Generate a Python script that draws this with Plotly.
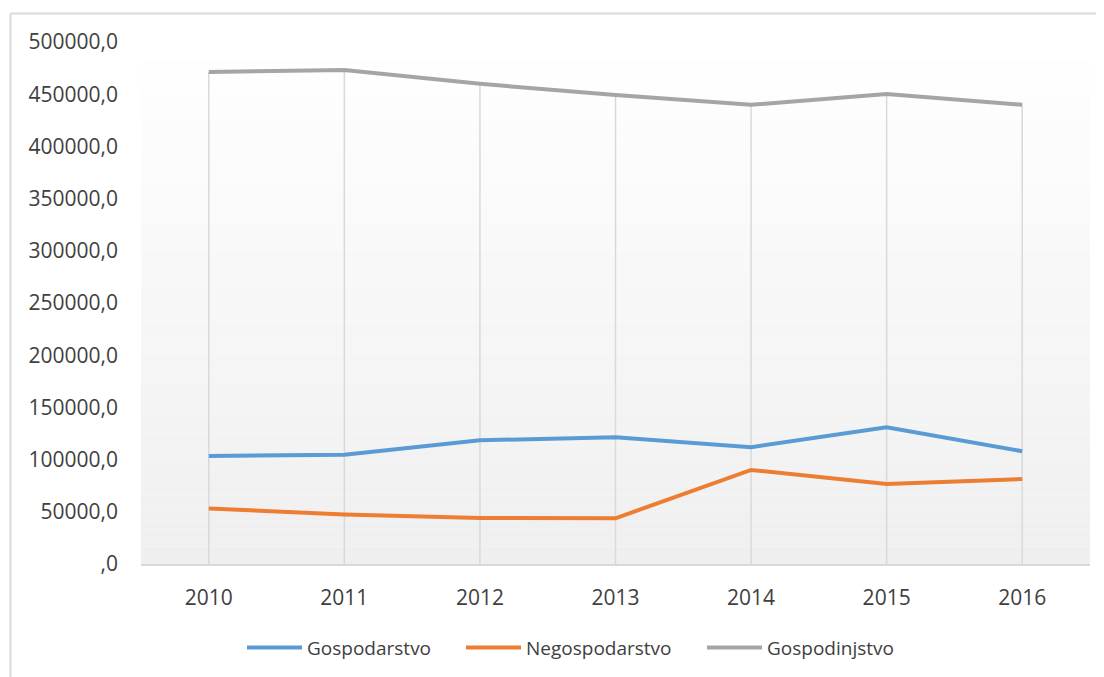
import plotly.graph_objects as go

years = ["2010", "2011", "2012", "2013", "2014", "2015", "2016"]
gospodarstvo = [103500, 104600, 118500, 121400, 111900, 131000, 108000]
negospodarstvo = [53200, 47400, 44000, 43800, 90100, 76700, 81300]
gospodinjstvo = [471300, 473200, 459900, 449300, 439800, 450300, 439800]

y_ticks = [0, 50000, 100000, 150000, 200000, 250000, 300000, 350000, 400000, 450000, 500000]
y_ticktext = [("%d" % v if v else "") + ",0" for v in y_ticks]

series = [
    ("Gospodarstvo", gospodarstvo, "#5b9bd5"),
    ("Negospodarstvo", negospodarstvo, "#ed7d31"),
    ("Gospodinjstvo", gospodinjstvo, "#a5a5a5"),
]

# the page body has an 8px margin, so the figure starts at (8, 8)
OFF = 8
W, H = 1104 - OFF, 677 - OFF
ml, mt = 141 - OFF, 42 - OFF
pw, ph = 949, 523
mr, mb = W - ml - pw, H - mt - ph

fig = go.Figure()

# drop lines (Excel style) from highest value down to axis
xs, ys = [], []
for i, yr in enumerate(years):
    top = max(gospodarstvo[i], negospodarstvo[i], gospodinjstvo[i])
    xs += [yr, yr, None]
    ys += [0, top, None]
fig.add_trace(go.Scatter(x=xs, y=ys, mode="lines", line=dict(color="#d9d9d9", width=1.5),
                         showlegend=False, hoverinfo="skip"))

legend_ids = ["legend", "legend2", "legend3"]
legend_px = [247, 466, 707]  # screen x where each legend sample starts
for (name, vals, col), lid in zip(series, legend_ids):
    fig.add_trace(go.Scatter(x=years, y=vals, name=name, mode="lines", legend=lid,
                             line=dict(color=col, width=4)))

shapes = []
# vertical gradient background of plot area
n = 60
for k in range(n):
    t = k / n
    g = int(round(255 - (255 - 239) * (1 - (k + 0.5) / n)))
    shapes.append(dict(type="rect", xref="x domain", yref="y domain",
                       x0=0, x1=1, y0=t, y1=t + 1.0 / n,
                       fillcolor=f"rgb({g},{g},{g})", line=dict(width=0), layer="below"))

# outer chart border (left and top visible)
bx = (10.5 - OFF - ml) / pw
by = 1 + (mt - (13.5 - OFF)) / ph
shapes.append(dict(type="line", xref="paper", yref="paper", x0=bx, x1=bx, y0=-0.5, y1=by,
                   line=dict(color="#d9d9d9", width=2)))
shapes.append(dict(type="line", xref="paper", yref="paper", x0=bx, x1=1.1, y0=by, y1=by,
                   line=dict(color="#d9d9d9", width=2)))

font_fam = "Open Sans, sans-serif"
legend_common = dict(orientation="h", xanchor="left", y=-0.158, yanchor="middle",
                     font=dict(size=19, color="#404040"), itemwidth=55,
                     bgcolor="rgba(0,0,0,0)")
layout_legends = {}
for lid, px in zip(legend_ids, legend_px):
    layout_legends[lid] = dict(legend_common, x=(px - 5 - OFF - ml) / pw)

fig.update_layout(
    width=W, height=H,
    margin=dict(l=ml, r=mr, t=mt, b=mb),
    paper_bgcolor="white", plot_bgcolor="rgba(0,0,0,0)",
    font=dict(family=font_fam, size=21, color="#404040"),
    shapes=shapes,
    showlegend=True,
    xaxis=dict(type="category", range=[-0.5, 6.5], showgrid=False, zeroline=False,
               showline=True, linecolor="#d9d9d9", linewidth=2, ticks="",
               ticklabelstandoff=14, tickfont=dict(size=21, color="#404040"), fixedrange=True),
    yaxis=dict(range=[0, 500000], tickvals=y_ticks, ticktext=y_ticktext, showgrid=False,
               zeroline=False, showline=False, ticks="", ticklabelstandoff=22,
               tickfont=dict(size=21, color="#404040"), fixedrange=True),
    **layout_legends,
)

fig.write_html("out.html")
